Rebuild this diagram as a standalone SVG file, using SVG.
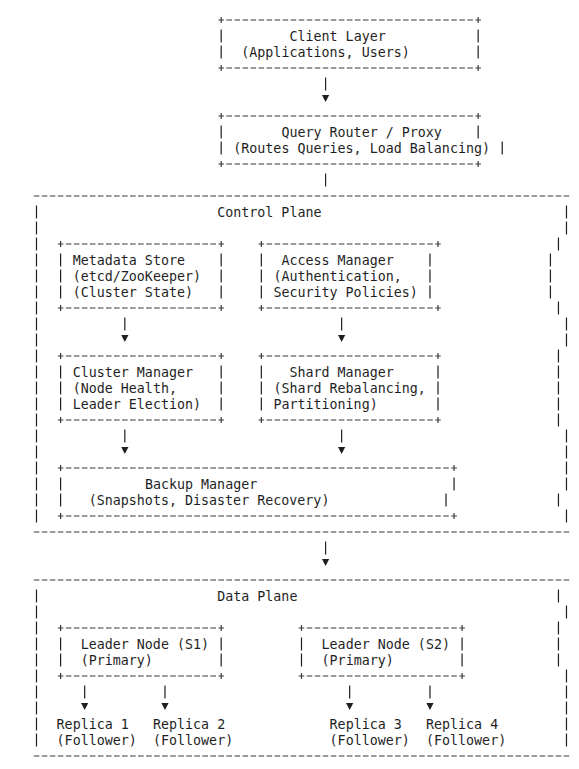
<svg xmlns="http://www.w3.org/2000/svg" width="579" height="769" viewBox="0 0 579 769">
<defs>
<style>
.t { font-family: "DejaVu Sans Mono", "Liberation Mono", monospace; font-size: 13.33px; fill: #1f1f1f; white-space: pre; }
.h { stroke: #3a3a3a; stroke-width: 1.2; stroke-dasharray: 5.6 2.43; fill: none; }
.v { stroke: #1f1f1f; stroke-width: 1.2; stroke-dasharray: 13 3; fill: none; }
.k { stroke: #3a3a3a; stroke-width: 1.2; fill: none; }
.c { stroke: #1f1f1f; stroke-width: 1.2; fill: none; }
.a { marker-end: url(#tri); }
</style>
<marker id="tri" markerUnits="userSpaceOnUse" markerWidth="20" markerHeight="20" refX="0" refY="0" orient="auto" overflow="visible">
<path d="M4.5,-3.6 L11.5,0 L4.5,3.6 Z" fill="#1f1f1f"/>
</marker>
</defs>
<rect width="579" height="769" fill="#ffffff"/>

<g id="client-layer">
<path class="h" d="M218.39 20 H480.95 M218.39 68 H480.95"/>
<path class="k" d="M221.19 17 V23 M478.15 17 V23 M221.19 65 V71 M478.15 65 V71"/>
<path class="v" d="M221.19 29.5 V58.5 M478.15 29.5 V58.5"/>
<text class="t" x="289.45" y="41">Client Layer</text>
<text class="t" x="241.27" y="57">(Applications, Users)</text>
</g>

<g id="query-router">
<path class="h" d="M218.39 116 H480.95 M218.39 164 H480.95"/>
<path class="k" d="M221.19 113 V119 M478.15 113 V119 M221.19 161 V167 M478.15 161 V167"/>
<path class="v" d="M221.19 125.5 V154.5 M478.15 125.5 V138.5 M502.24 141.5 V154.5"/>
<text class="t" x="281.42" y="137">Query Router / Proxy</text>
<text class="t" x="233.24" y="153">(Routes Queries, Load Balancing)</text>
</g>

<g id="control-plane">
<path class="h" d="M33.7 196 H569.28 M33.7 532 H569.28"/>
<path class="v" d="M36.5 205.5 V522.5"/>
<path class="v" d="M566.48 205.5 V234.5 M558.45 237.5 V250.5 M550.42 253.5 V298.5 M558.45 301.5 V314.5 M566.48 317.5 V346.5 M558.45 349.5 V426.5 M566.48 429.5 V490.5 M558.45 493.5 V506.5 M566.48 509.5 V522.5"/>
<text class="t" x="217.18" y="217">Control Plane</text>
</g>

<g id="metadata-store">
<path class="h" d="M57.79 244 H223.99 M57.79 308 H223.99"/>
<path class="k" d="M60.59 241 V247 M221.19 241 V247 M60.59 305 V311 M221.19 305 V311"/>
<path class="v" d="M60.59 253.5 V298.5 M221.19 253.5 V298.5"/>
<text class="t" x="72.65" y="265">Metadata Store</text>
<text class="t" x="72.65" y="281">(etcd/ZooKeeper)</text>
<text class="t" x="72.65" y="297">(Cluster State)</text>
</g>

<g id="access-manager">
<path class="h" d="M258.54 244 H440.8 M258.54 308 H440.8"/>
<path class="k" d="M261.34 241 V247 M438 241 V247 M261.34 305 V311 M438 305 V311"/>
<path class="v" d="M261.34 253.5 V298.5 M429.97 253.5 V298.5"/>
<text class="t" x="281.42" y="265">Access Manager</text>
<text class="t" x="273.39" y="281">(Authentication,</text>
<text class="t" x="273.39" y="297">Security Policies)</text>
</g>

<g id="cluster-manager">
<path class="h" d="M57.79 356 H223.99 M57.79 420 H223.99"/>
<path class="k" d="M60.59 353 V359 M221.19 353 V359 M60.59 417 V423 M221.19 417 V423"/>
<path class="v" d="M60.59 365.5 V410.5 M221.19 365.5 V410.5"/>
<text class="t" x="72.65" y="377">Cluster Manager</text>
<text class="t" x="72.65" y="393">(Node Health,</text>
<text class="t" x="72.65" y="409">Leader Election)</text>
</g>

<g id="shard-manager">
<path class="h" d="M258.54 356 H440.8 M258.54 420 H440.8"/>
<path class="k" d="M261.34 353 V359 M438 353 V359 M261.34 417 V423 M438 417 V423"/>
<path class="v" d="M261.34 365.5 V410.5 M438 365.5 V410.5"/>
<text class="t" x="289.45" y="377">Shard Manager</text>
<text class="t" x="273.39" y="393">(Shard Rebalancing,</text>
<text class="t" x="273.39" y="409">Partitioning)</text>
</g>

<g id="backup-manager">
<path class="h" d="M57.79 468 H456.86 M57.79 516 H456.86"/>
<path class="k" d="M60.59 465 V471 M454.06 465 V471 M60.59 513 V519 M454.06 513 V519"/>
<path class="v" d="M60.59 477.5 V506.5 M454.06 477.5 V490.5 M446.03 493.5 V506.5"/>
<text class="t" x="144.91" y="489">Backup Manager</text>
<text class="t" x="88.7" y="505">(Snapshots, Disaster Recovery)</text>
</g>

<g id="data-plane">
<path class="h" d="M33.7 580 H569.28 M33.7 756 H569.28"/>
<path class="v" d="M36.5 589.5 V746.5"/>
<path class="v" d="M558.45 589.5 V602.5 M566.48 605.5 V618.5 M558.45 621.5 V666.5 M566.48 669.5 V746.5"/>
<text class="t" x="217.18" y="601">Data Plane</text>
</g>

<g id="leader-s1">
<path class="h" d="M57.79 628 H223.99 M57.79 676 H223.99"/>
<path class="k" d="M60.59 625 V631 M221.19 625 V631 M60.59 673 V679 M221.19 673 V679"/>
<path class="v" d="M60.59 637.5 V666.5 M221.19 637.5 V666.5"/>
<text class="t" x="80.67" y="649">Leader Node (S1)</text>
<text class="t" x="80.67" y="665">(Primary)</text>
</g>

<g id="leader-s2">
<path class="h" d="M298.69 628 H464.89 M298.69 676 H464.89"/>
<path class="k" d="M301.49 625 V631 M462.09 625 V631 M301.49 673 V679 M462.09 673 V679"/>
<path class="v" d="M301.49 637.5 V666.5 M462.09 637.5 V666.5"/>
<text class="t" x="321.57" y="649">Leader Node (S2)</text>
<text class="t" x="321.57" y="665">(Primary)</text>
</g>

<g id="replica-1">
<text class="t" x="56.58" y="729">Replica 1</text>
<text class="t" x="56.58" y="745">(Follower)</text>
</g>
<g id="replica-2">
<text class="t" x="152.94" y="729">Replica 2</text>
<text class="t" x="152.94" y="745">(Follower)</text>
</g>
<g id="replica-3">
<text class="t" x="329.6" y="729">Replica 3</text>
<text class="t" x="329.6" y="745">(Follower)</text>
</g>
<g id="replica-4">
<text class="t" x="425.96" y="729">Replica 4</text>
<text class="t" x="425.96" y="745">(Follower)</text>
</g>

<g id="connectors">
<path class="c a" d="M325.58 77.5 V90.5"/>
<path class="c" d="M325.58 173.5 V186.5"/>
<path class="c a" d="M124.83 317.5 V330.5"/>
<path class="c a" d="M341.64 317.5 V330.5"/>
<path class="c a" d="M124.83 429.5 V442.5"/>
<path class="c a" d="M341.64 429.5 V442.5"/>
<path class="c a" d="M325.58 541.5 V554.5"/>
<path class="c a" d="M84.68 685.5 V698.5"/>
<path class="c a" d="M164.98 685.5 V698.5"/>
<path class="c a" d="M349.67 685.5 V698.5"/>
<path class="c a" d="M429.97 685.5 V698.5"/>
</g>
</svg>
